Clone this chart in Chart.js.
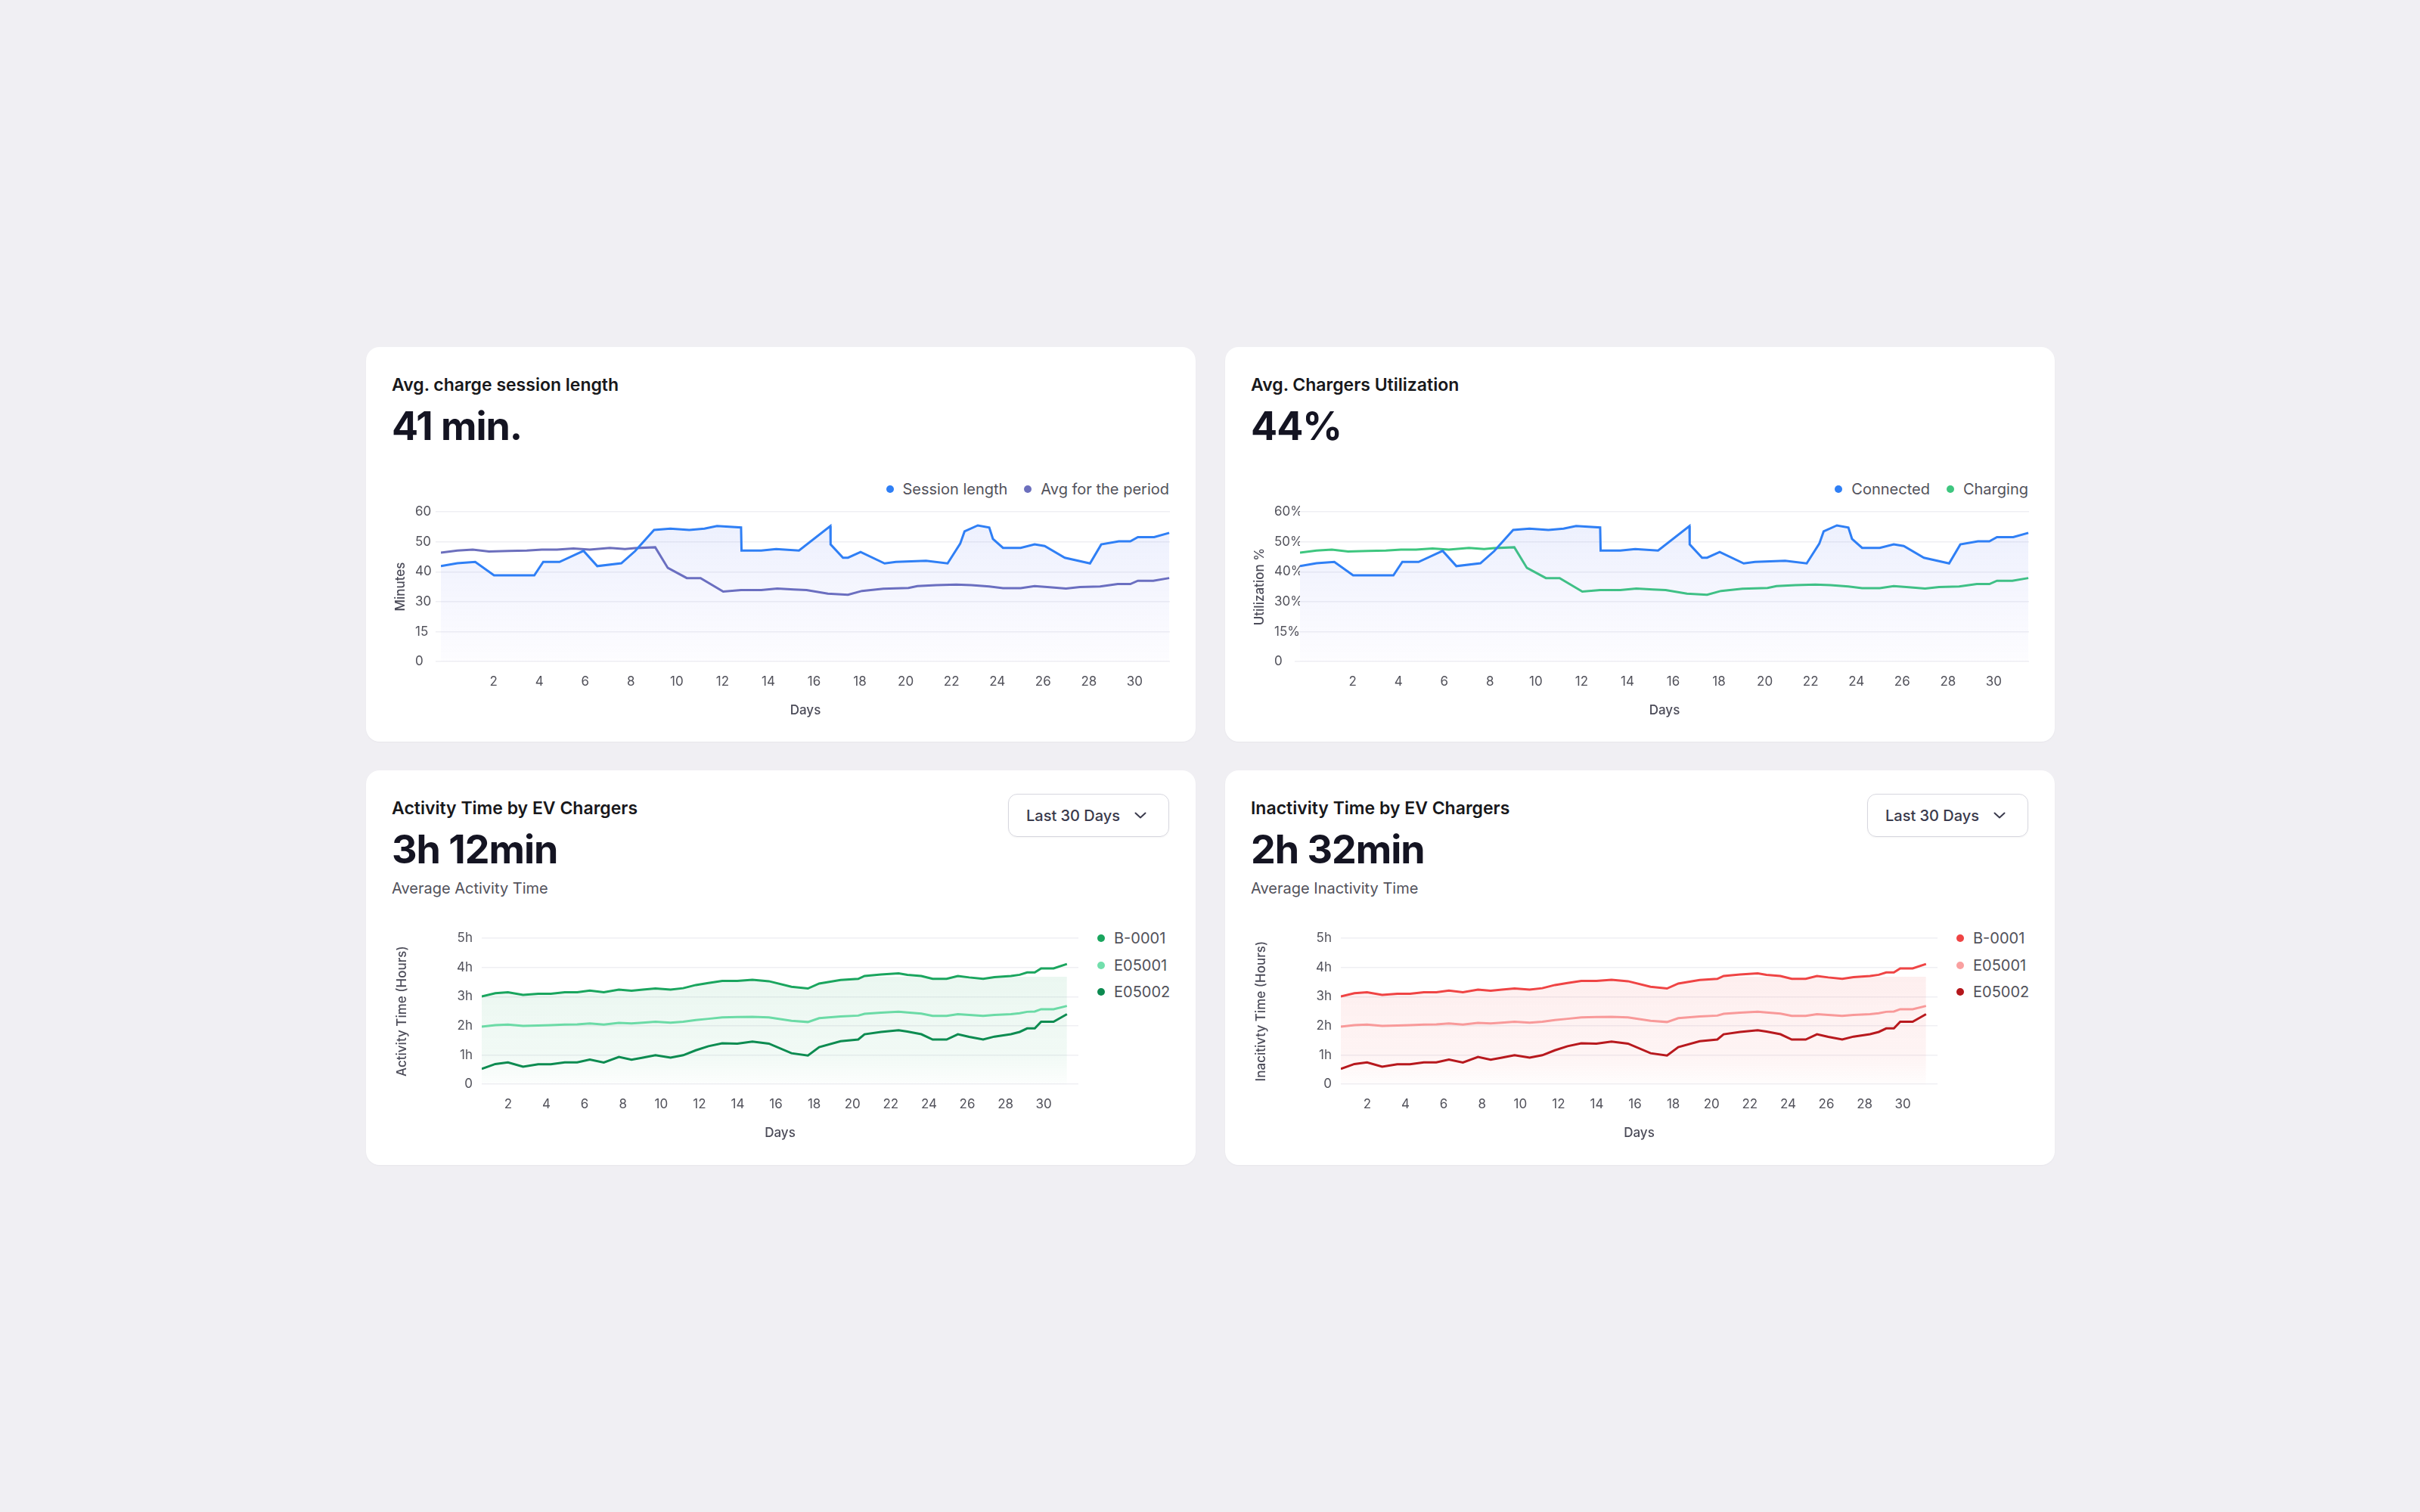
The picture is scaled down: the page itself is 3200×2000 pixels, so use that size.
<!DOCTYPE html>
<html>
<head>
<meta charset="utf-8">
<title>EV chargers dashboard</title>
<script src="https://cdn.jsdelivr.net/npm/chart.js@4.4.1/dist/chart.umd.min.js"></script>
<style>
  html, body { margin: 0; padding: 0; }
  body {
    width: 3200px; height: 2000px; position: relative; overflow: hidden;
    background: #f0eff3; font-family: Inter, "Noto Sans", sans-serif;
  }
  .card {
    position: absolute; width: 1097px; height: 522px; background: #fff;
    border-radius: 18px; box-shadow: 0 1px 2px rgba(16, 24, 40, 0.04);
  }
  .title {
    position: absolute; left: 34px; top: 39px; font-size: 23px; line-height: 23px;
    font-weight: 600; color: #18181b; white-space: nowrap;
  }
  .big {
    position: absolute; left: 34px; top: 79px; font-size: 52px; line-height: 52px;
    font-weight: 700; color: #141422; letter-spacing: -1px; white-space: nowrap;
  }
  .sub {
    position: absolute; left: 34px; top: 146px; font-size: 20px; line-height: 20px;
    color: #52525b; white-space: nowrap;
  }
  .legend-row {
    position: absolute; right: 35px; top: 176px; height: 24px; display: flex;
    align-items: center; gap: 22px; font-size: 20px; color: #52525b;
  }
  .legend-col { position: absolute; left: 967px; top: 210px; font-size: 20px; color: #52525b; }
  .legend-item { display: flex; align-items: center; gap: 12px; height: 24px; white-space: nowrap; }
  .legend-col .legend-item { margin-bottom: 11.5px; }
  .dot { width: 10px; height: 10px; border-radius: 50%; flex: none; }
  .select {
    position: absolute; right: 35px; top: 31px; width: 213px; height: 57px; box-sizing: border-box;
    border: 1.5px solid #d7d7df; border-radius: 12px; display: flex; align-items: center;
    padding-left: 23px; font-size: 20px; font-weight: 500; color: #3a3a4c;
    box-shadow: 0 1px 2px rgba(0, 0, 0, 0.05);
  }
  .select svg { margin-left: 19px; }
  .chart-box { position: absolute; left: 30px; }
  .chart-box.top { top: 205px; width: 1034px; height: 291px; }
  .chart-box.bottom { top: 200px; width: 912px; height: 295px; }
</style>
</head>
<body>

<div class="card" style="left:484px; top:459px;">
  <div class="title">Avg. charge session length</div>
  <div class="big">41 min.</div>
  <div class="legend-row">
    <div class="legend-item"><span class="dot" style="background:#2f7ff5"></span>Session length</div>
    <div class="legend-item"><span class="dot" style="background:#6c6fbd"></span>Avg for the period</div>
  </div>
  <div class="chart-box top"><canvas id="sessionChart" width="1034" height="291"></canvas></div>
</div>

<div class="card" style="left:1620px; top:459px;">
  <div class="title">Avg. Chargers Utilization</div>
  <div class="big">44%</div>
  <div class="legend-row">
    <div class="legend-item"><span class="dot" style="background:#2f7ff5"></span>Connected</div>
    <div class="legend-item"><span class="dot" style="background:#3ec67f"></span>Charging</div>
  </div>
  <div class="chart-box top"><canvas id="utilChart" width="1034" height="291"></canvas></div>
</div>

<div class="card" style="left:484px; top:1019px;">
  <div class="title">Activity Time by EV Chargers</div>
  <div class="big">3h 12min</div>
  <div class="sub">Average Activity Time</div>
  <div class="select">Last 30 Days
    <svg width="16" height="9" viewBox="0 0 16 9"><path d="M1.5 1.5 L8 7.5 L14.5 1.5" fill="none" stroke="#3a3a4c" stroke-width="2" stroke-linecap="round" stroke-linejoin="round"/></svg>
  </div>
  <div class="legend-col">
    <div class="legend-item"><span class="dot" style="background:#1aa55e"></span>B-0001</div>
    <div class="legend-item"><span class="dot" style="background:#72dfac"></span>E05001</div>
    <div class="legend-item"><span class="dot" style="background:#0c8a50"></span>E05002</div>
  </div>
  <div class="chart-box bottom"><canvas id="activityChart" width="912" height="295"></canvas></div>
</div>

<div class="card" style="left:1620px; top:1019px;">
  <div class="title">Inactivity Time by EV Chargers</div>
  <div class="big">2h 32min</div>
  <div class="sub">Average Inactivity Time</div>
  <div class="select">Last 30 Days
    <svg width="16" height="9" viewBox="0 0 16 9"><path d="M1.5 1.5 L8 7.5 L14.5 1.5" fill="none" stroke="#3a3a4c" stroke-width="2" stroke-linecap="round" stroke-linejoin="round"/></svg>
  </div>
  <div class="legend-col">
    <div class="legend-item"><span class="dot" style="background:#ef4444"></span>B-0001</div>
    <div class="legend-item"><span class="dot" style="background:#f9a0a0"></span>E05001</div>
    <div class="legend-item"><span class="dot" style="background:#b4161b"></span>E05002</div>
  </div>
  <div class="chart-box bottom"><canvas id="inactivityChart" width="912" height="295"></canvas></div>
</div>

<script>
/* Data. The two top panels plot the same curves,
   the two bottom panels too; only labels and colours differ. */

const dayTicks = [2, 4, 6, 8, 10, 12, 14, 16, 18, 20, 22, 24, 26, 28, 30];

// top panels: 0 / 15 sit on evenly spaced gridlines below 30
const minuteTicks = ["0", "15", "30", "40", "50", "60"];
const percentTicks = ["0", "15%", "30%", "40%", "50%", "60%"];
const hourTicks = ["0", "1h", "2h", "3h", "4h", "5h"];

const sessionDays = [-0.3, 0.42, 1.2, 2.02, 3.78, 4.17, 4.88, 5.93, 6.53, 7.58, 8.18, 9.01, 9.72, 10.55, 11.21, 11.76, 12.81, 12.83, 13.69, 14.34, 15.34, 16.71, 16.72, 17.26, 17.48, 18.03, 19.08, 19.57, 20.89, 21.83, 22.38, 22.57, 23.15, 23.65, 23.81, 24.25, 25.02, 25.63, 26.07, 26.95, 28.05, 28.54, 29.31, 29.81, 30.14, 30.85, 31.51];
const sessionValues = [41.9, 42.85, 43.3, 38.8, 38.8, 43.3, 43.3, 47.0, 41.9, 42.85, 46.9, 54.0, 54.45, 54.0, 54.45, 55.3, 54.8, 47.1, 47.1, 47.6, 47.1, 55.3, 49.15, 44.7, 44.7, 46.6, 42.8, 43.3, 43.7, 42.8, 49.4, 53.5, 55.5, 54.8, 51.0, 48.0, 48.0, 49.15, 48.6, 44.7, 42.8, 49.15, 50.2, 50.2, 51.6, 51.6, 53.0];

const periodDays = [-0.3, 0.42, 1.09, 1.8, 2.68, 3.45, 4.11, 4.77, 5.49, 6.2, 7.08, 7.74, 8.18, 9.06, 9.61, 10.44, 11.04, 12.03, 12.81, 13.69, 14.39, 15.12, 15.67, 16.6, 17.48, 18.09, 19.02, 20.12, 20.51, 21.33, 22.21, 22.87, 23.65, 24.25, 25.02, 25.63, 26.18, 27.0, 27.61, 28.49, 29.26, 29.81, 30.14, 30.81, 31.51];
const periodValues = [46.4, 47.1, 47.4, 46.8, 47.0, 47.1, 47.4, 47.4, 47.8, 47.4, 48.0, 47.6, 47.9, 48.2, 41.3, 37.9, 37.9, 33.4, 33.9, 33.9, 34.4, 34.1, 33.9, 32.7, 32.3, 33.6, 34.3, 34.6, 35.2, 35.5, 35.7, 35.5, 35.1, 34.5, 34.5, 35.2, 34.9, 34.4, 34.9, 35.1, 35.9, 35.9, 37.0, 37.0, 37.9];

const chargerDays = [0.62, 1.33, 1.99, 2.78, 3.57, 4.23, 4.96, 5.61, 6.27, 7.0, 7.79, 8.45, 9.04, 9.7, 10.49, 11.15, 11.81, 12.47, 13.19, 13.98, 14.77, 15.63, 16.81, 17.67, 18.26, 19.38, 20.3, 20.63, 21.49, 22.41, 22.87, 23.6, 24.19, 24.92, 25.51, 26.1, 26.83, 27.42, 28.28, 28.74, 29.13, 29.53, 29.86, 30.51, 31.21];
const b0001Hours = [3.01, 3.12, 3.15, 3.06, 3.1, 3.1, 3.15, 3.15, 3.21, 3.15, 3.24, 3.2, 3.24, 3.28, 3.24, 3.29, 3.4, 3.47, 3.54, 3.54, 3.58, 3.53, 3.34, 3.28, 3.45, 3.57, 3.61, 3.71, 3.76, 3.8, 3.75, 3.71, 3.61, 3.61, 3.71, 3.66, 3.61, 3.67, 3.71, 3.75, 3.83, 3.83, 3.97, 3.97, 4.12];
const e05001Hours = [1.97, 2.02, 2.04, 2.0, 2.01, 2.02, 2.04, 2.05, 2.08, 2.04, 2.1, 2.08, 2.11, 2.14, 2.11, 2.14, 2.2, 2.24, 2.29, 2.3, 2.31, 2.29, 2.17, 2.13, 2.26, 2.32, 2.35, 2.41, 2.45, 2.48, 2.46, 2.42, 2.34, 2.34, 2.4, 2.37, 2.34, 2.37, 2.4, 2.43, 2.48, 2.49, 2.57, 2.57, 2.68];
const e05002Hours = [0.52, 0.69, 0.745, 0.6, 0.68, 0.68, 0.745, 0.745, 0.84, 0.74, 0.93, 0.84, 0.91, 0.99, 0.91, 0.99, 1.16, 1.3, 1.4, 1.39, 1.46, 1.39, 1.06, 0.98, 1.27, 1.47, 1.53, 1.71, 1.79, 1.85, 1.8, 1.71, 1.53, 1.53, 1.71, 1.62, 1.53, 1.63, 1.71, 1.79, 1.91, 1.91, 2.14, 2.14, 2.4];

const GRID = "#efeff3";
const TICK = "#52525b";
const AXIS = "#4b4b58";

Chart.defaults.font.family = "Inter, 'Noto Sans', sans-serif";
Chart.defaults.animation = false;

const chartInstances = {};

function createChart(canvasId, config) {
  if (chartInstances[canvasId]) chartInstances[canvasId].destroy();
  const ctx = document.getElementById(canvasId);
  if (!ctx) return null;
  chartInstances[canvasId] = new Chart(ctx, config);
  return chartInstances[canvasId];
}

function points(xs, ys) {
  return xs.map((x, i) => ({ x, y: ys[i] }));
}

function line(label, data, color, extra) {
  return Object.assign({
    label,
    data,
    borderColor: color,
    borderWidth: 3,
    pointRadius: 0,
    tension: 0,
    fill: false,
  }, extra || {});
}

// soft fade under the top curves
function fadeFill(c) {
  const { chart } = c;
  const area = chart.chartArea;
  if (!area) return "rgba(79,110,240,0.06)";
  const g = chart.ctx.createLinearGradient(0, area.top, 0, area.bottom);
  g.addColorStop(0, "rgba(72,110,240,0.11)");
  g.addColorStop(0.55, "rgba(90,105,240,0.06)");
  g.addColorStop(1, "rgba(110,100,240,0.015)");
  return g;
}

// the bottom panels' band is cut flat near 3.7h and fades below 1h
function bandFill(rgb) {
  return (c) => {
    const { chart } = c;
    const area = chart.chartArea;
    if (!area) return `rgba(${rgb},0.06)`;
    const y = chart.scales.y;
    const span = area.bottom - area.top;
    const cut = (y.getPixelForValue(3.68) - area.top) / span;
    const low = (y.getPixelForValue(1) - area.top) / span;
    const g = chart.ctx.createLinearGradient(0, area.top, 0, area.bottom);
    g.addColorStop(0, `rgba(${rgb},0)`);
    g.addColorStop(cut, `rgba(${rgb},0)`);
    g.addColorStop(cut, `rgba(${rgb},0.085)`);
    g.addColorStop(low, `rgba(${rgb},0.06)`);
    g.addColorStop(1, `rgba(${rgb},0.012)`);
    return g;
  };
}

// note: chart.js doubles ticks.padding when sizing a horizontal axis
function daysAxis(min, max) {
  return {
    type: "linear",
    min,
    max,
    afterBuildTicks: (s) => { s.ticks = dayTicks.map((v) => ({ value: v })); },
    grid: { display: false, drawTicks: false },
    border: { display: false },
    ticks: { padding: 16.4, color: TICK, font: { size: 17 }, callback: (v) => String(v) },
    title: { display: true, text: "Days", color: AXIS, font: { size: 17, weight: "500" }, padding: { top: 1, bottom: 5.4 } },
  };
}

function renderTopChart(canvasId, names, colors, tickLabels, yTitle) {
  createChart(canvasId, {
    type: "line",
    data: {
      datasets: [
        line(names[0], points(sessionDays, sessionValues), colors[0], { fill: "start", backgroundColor: fadeFill }),
        line(names[1], points(periodDays, periodValues), colors[1]),
      ],
    },
    options: {
      responsive: false,
      layout: { padding: { top: 12, left: 35, right: 1, bottom: 0 } },
      plugins: { legend: { display: false }, tooltip: { enabled: false } },
      scales: {
        x: daysAxis(-0.3, 31.54),
        y: {
          min: 10,
          max: 60,
          afterFit: (s) => { s.width = 34; },
          border: { display: false },
          grid: { color: GRID, lineWidth: 1.5, drawTicks: true, tickLength: 7 },
          ticks: { stepSize: 10, crossAlign: "far", color: TICK, font: { size: 17 }, callback: (v, i) => tickLabels[i] },
          title: { display: true, text: yTitle, color: AXIS, font: { size: 17, weight: "500" }, padding: { top: -29, bottom: 0 } },
        },
      },
    },
  });
}

function renderBottomChart(canvasId, colors, rgb, yTitle) {
  createChart(canvasId, {
    type: "line",
    data: {
      datasets: [
        line("B-0001", points(chargerDays, b0001Hours), colors[0], { fill: "start", backgroundColor: bandFill(rgb) }),
        line("E05001", points(chargerDays, e05001Hours), colors[1]),
        line("E05002", points(chargerDays, e05002Hours), colors[2]),
      ],
    },
    options: {
      responsive: false,
      layout: { padding: { top: 12, left: 0, right: 0, bottom: 0 } },
      plugins: { legend: { display: false }, tooltip: { enabled: false } },
      scales: {
        x: daysAxis(0.62, 31.81),
        y: {
          min: 0,
          max: 5,
          afterFit: (s) => { s.width = 123; },
          border: { display: false },
          grid: { color: GRID, lineWidth: 1.5, drawTicks: false },
          ticks: { stepSize: 1, padding: 12, color: TICK, font: { size: 17 }, callback: (v, i) => hourTicks[i] },
          title: { display: true, text: yTitle, color: AXIS, font: { size: 17, weight: "500" }, padding: { top: 8, bottom: 0 } },
        },
      },
    },
  });
}

renderTopChart("sessionChart", ["Session length", "Avg for the period"], ["#2f7ff5", "#6c6fbd"], minuteTicks, "Minutes");
renderTopChart("utilChart", ["Connected", "Charging"], ["#2f7ff5", "#3ec67f"], percentTicks, "Utilization %");
renderBottomChart("activityChart", ["#1aa55e", "#72dfac", "#0c8a50"], "22,163,90", "Activity Time (Hours)");
renderBottomChart("inactivityChart", ["#ef4444", "#f9a0a0", "#b4161b"], "239,68,68", "Inacitivty Time (Hours)");
</script>
</body>
</html>
